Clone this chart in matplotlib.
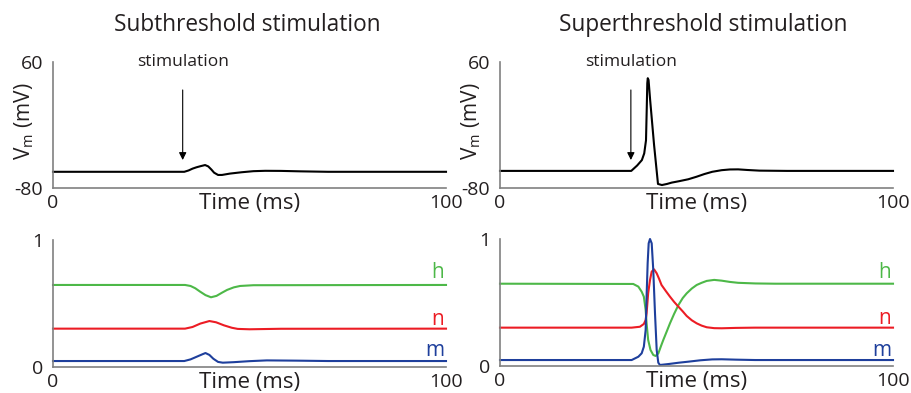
import matplotlib
matplotlib.use('Agg')
import matplotlib.pyplot as plt

plt.rcParams['font.family'] = ['Open Sans', 'DejaVu Sans']
plt.rcParams['axes.unicode_minus'] = False

# membrane potential, subthreshold (ms, mV)
t_sub_v = [0, 33.4, 34.5, 35.5, 36.5, 37.5, 38.7, 39.5, 40.3, 41.0, 42.0, 43.0, 45.0, 48.0,
           51.0, 54.0, 58.0, 63.0, 70.0, 100]
v_sub = [-62, -62, -60.5, -58.5, -57, -55.8, -54.5, -56, -59.5, -63, -65.5, -65.5, -64, -62.5,
         -61.3, -60.9, -61.0, -61.5, -62, -62]

# membrane potential, superthreshold
t_sup_v = [0, 33.4, 34.9, 36.1, 36.7, 37.15, 37.33, 37.48, 37.6, 37.8, 38.2, 39.2, 40.2, 41.2,
           42.5, 43.7, 45.5, 47.9, 50.0, 52.0, 54.0, 56.4, 58.5, 60.6, 63.0, 66.0, 73.0, 100]
v_sup = [-61, -61, -55, -49, -41.5, -27, 6.5, 36.5, 42, 40, 18, -32, -75.5, -76.7,
         -75.5, -74, -72.5, -70.3, -67.5, -64.5, -62, -60.2, -59.4, -59.3, -60, -60.7, -61, -61]

# gating variables, subthreshold
t_sub_h = [0, 33.6, 35, 36.2, 37.4, 38.8, 40.2, 41.6, 43, 44.3, 46, 47.6, 51, 100]
h_sub = [0.646, 0.646, 0.638, 0.62, 0.594, 0.566, 0.549, 0.56, 0.585, 0.607, 0.627, 0.638, 0.644, 0.646]
t_sub_n = [0, 33.6, 35.5, 37.5, 39.8, 41.5, 43.5, 45.5, 47, 50, 58, 100]
n_sub = [0.302, 0.302, 0.315, 0.342, 0.362, 0.352, 0.328, 0.309, 0.300, 0.297, 0.301, 0.302]
t_sub_m = [0, 33.4, 35, 36.5, 38, 38.8, 39.8, 40.8, 42, 43.2, 46, 50, 54.4, 62, 70, 100]
m_sub = [0.047, 0.047, 0.06, 0.08, 0.1, 0.11, 0.095, 0.065, 0.04, 0.034, 0.038, 0.046, 0.052, 0.05, 0.047, 0.047]

# gating variables, superthreshold
t_sup_h = [0, 33.9, 35.2, 36.05, 36.6, 37.06, 37.3, 37.7, 38.3, 39.0, 39.6, 40.3, 41.0, 41.55, 42.4,
           43.25, 44.3, 45.4, 46.5, 47.5, 48.8, 50.05, 51.3, 52.6, 54.5, 56.4, 58.5, 60.6, 65, 70, 100]
h_sup = [0.648, 0.646, 0.625, 0.585, 0.546, 0.441, 0.336, 0.205, 0.126, 0.087, 0.079, 0.1, 0.16, 0.205, 0.27,
         0.336, 0.41, 0.48, 0.535, 0.572, 0.61, 0.638, 0.655, 0.67, 0.678, 0.672, 0.662, 0.655, 0.65, 0.648, 0.648]
t_sup_n = [0, 33.5, 35.6, 36.6, 37.06, 37.3, 37.7, 38.17, 38.6, 39.2, 39.87, 40.5, 41.1, 42.2, 43.25,
           44.3, 45.4, 46.5, 47.5, 48.8, 50.05, 51.3, 52.6, 54.5, 56.4, 60, 64.9, 100]
n_sup = [0.302, 0.302, 0.309, 0.331, 0.362, 0.415, 0.572, 0.677, 0.743, 0.761, 0.73, 0.685, 0.638, 0.59, 0.546,
         0.505, 0.467, 0.43, 0.394, 0.36, 0.336, 0.318, 0.305, 0.298, 0.297, 0.3, 0.302, 0.302]
t_sup_m = [0, 33.5, 35.2, 36.05, 36.6, 37.06, 37.3, 37.57, 37.83, 38.17, 38.6, 39.0, 39.44, 39.87,
           40.28, 40.7, 43.0, 45.5, 47.9, 51.0, 54.0, 56.4, 60.0, 64.9, 100]
m_sup = [0.047, 0.047, 0.073, 0.1, 0.152, 0.283, 0.546, 0.809, 0.966, 1.0, 0.966, 0.756, 0.415, 0.126,
         0.026, 0.008, 0.016, 0.026, 0.034, 0.045, 0.052, 0.053, 0.05, 0.047, 0.047]

titles = ['Subthreshold stimulation', 'Superthreshold stimulation']
stim_t = [33.0, 33.3]
gate_labels = ['h', 'n', 'm']
label_y_sub = [0.70, 0.33, 0.089]
label_y_sup = [0.69, 0.328, 0.081]

c_h = '#4DB848'
c_n = '#EC1C24'
c_m = '#1E3F9C'
spine_c = '#808080'

W, H = 911, 393
fig = plt.figure(figsize=(W / 100, H / 100), dpi=100)


def ax_at(x0, y_top, x1, y_bot):
    return fig.add_axes([x0 / W, 1 - y_bot / H, (x1 - x0) / W, (y_bot - y_top) / H])


axes_v = [ax_at(53, 62, 446, 188), ax_at(500, 62, 893, 188)]
axes_g = [ax_at(53, 240, 446, 367), ax_at(500, 239, 893, 366)]


def style(ax, yticks):
    for s in ['top', 'right']:
        ax.spines[s].set_visible(False)
    for s in ['left', 'bottom']:
        ax.spines[s].set_color(spine_c)
        ax.spines[s].set_linewidth(1.2)
    ax.set_xlim(0, 100)
    ax.set_xticks([0, 100])
    ax.set_ylim(yticks[0], yticks[1])
    ax.set_yticks(yticks)
    ax.tick_params(length=0, labelsize=14, colors='#231f20')
    ax.tick_params(axis='x', pad=4)
    ax.tick_params(axis='y', pad=7)
    ax.annotate('Time (ms)', xy=(0.5, 0), xycoords='axes fraction', xytext=(0, -15.1),
                textcoords='offset points', ha='center', va='baseline', fontsize=16, color='#231f20')


# top: membrane potential
for ax, t, v, st in zip(axes_v, [t_sub_v, t_sup_v], [v_sub, v_sup], stim_t):
    style(ax, [-80, 60])
    ax.plot(t, v, color='black', lw=1.5, clip_on=False)
    ax.annotate('', xy=(st, -52), xytext=(st, 32),
                arrowprops=dict(arrowstyle='-|>', color='black', lw=0.8, mutation_scale=11))
    ax.text(st, 60, 'stimulation', ha='center', va='center', fontsize=12.5, color='#231f20')
    ax.text(-0.0725, 0.53, 'V$_\\mathregular{m}$ (mV)', transform=ax.transAxes, rotation=90,
            ha='center', va='center', fontsize=15, color='#231f20')

# bottom: gating variables
gate_sets = [
    [(t_sub_h, h_sub, c_h), (t_sub_n, n_sub, c_n), (t_sub_m, m_sub, c_m)],
    [(t_sup_h, h_sup, c_h), (t_sup_n, n_sup, c_n), (t_sup_m, m_sup, c_m)],
]
for ax, gs, ly in zip(axes_g, gate_sets, [label_y_sub, label_y_sup]):
    style(ax, [0, 1])
    for (t, g, c), lab, y in zip(gs, gate_labels, ly):
        ax.plot(t, g, color=c, lw=1.5, clip_on=False)
        ax.text(99.5, y, lab, color=c, ha='right', va='baseline', fontsize=15)

fig.text(247 / W, 1 - 31 / H, titles[0], ha='center', va='baseline', fontsize=16.3, color='#231f20')
fig.text(703 / W, 1 - 31 / H, titles[1], ha='center', va='baseline', fontsize=16.3, color='#231f20')

fig.savefig('out.png', dpi=100)
